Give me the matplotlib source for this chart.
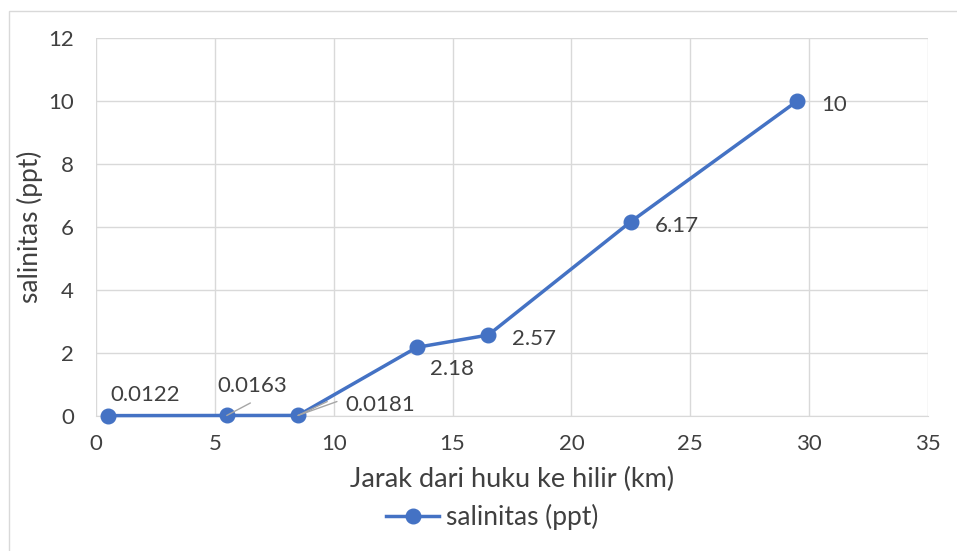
import matplotlib
matplotlib.use("Agg")
import matplotlib.pyplot as plt
from matplotlib.patches import Rectangle

# Salinity along the river
jarak = [0.5, 5.5, 8.5, 13.5, 16.5, 22.5, 29.5]
salinitas = [0.0122, 0.0163, 0.0181, 2.18, 2.57, 6.17, 10]
label_teks = ["0.0122", "0.0163", "0.0181", "2.18", "2.57", "6.17", "10"]

xticks = [0, 5, 10, 15, 20, 25, 30, 35]
yticks = [0, 2, 4, 6, 8, 10, 12]

plt.rcParams["font.family"] = ["Lato", "DejaVu Sans"]
TEXT = "#404040"
BLUE = "#4472C4"
GRID = "#D9D9D9"

fig = plt.figure(figsize=(9.57, 5.51), dpi=100)
fig.patches.append(Rectangle((9 / 957, -0.01), 1.0, 1 - 11 / 551 + 0.01,
                             transform=fig.transFigure, fill=False,
                             edgecolor="#D9D9D9", linewidth=1.0))

ax = fig.add_axes([96 / 957, (551 - 416) / 551, 832 / 957, 378 / 551])
ax.set_xlim(0, 35)
ax.set_ylim(0, 12)
ax.set_xticks(xticks)
ax.set_yticks(yticks)
ax.grid(True, color=GRID, linewidth=1.0)
ax.set_axisbelow(True)
for s in ["top", "right", "left"]:
    ax.spines[s].set_visible(False)
ax.spines["bottom"].set_color(GRID)
ax.tick_params(length=0, labelsize=16, labelcolor=TEXT)
ax.tick_params(axis="x", pad=13)
ax.tick_params(axis="y", pad=16)

line, = ax.plot(jarak, salinitas, color=BLUE, linewidth=2.5, marker="o",
                markersize=10.5, label="salinitas (ppt)", zorder=3, clip_on=False)

# data labels: (dx, dy) offsets in points, left edge / vertical centre
offsets = [(1.5, 16), (-6.5, 23), (34, 9), (9.5, -14), (17, -1.5), (17, -2), (17, -1.5)]
for xv, yv, t, (dx, dy) in zip(jarak, salinitas, label_teks, offsets):
    ax.annotate(t, (xv, yv), xytext=(dx, dy), textcoords="offset points",
                fontsize=16, color=TEXT, va="center_baseline",
                ha="left", annotation_clip=False)

# leader lines for the crowded labels
ax.annotate("", (jarak[1], salinitas[1]), xytext=(17, 9), textcoords="offset points",
            arrowprops=dict(arrowstyle="-", color="#A6A6A6", lw=1.0, shrinkA=0, shrinkB=0))
ax.annotate("", (jarak[2], salinitas[2]), xytext=(21, 10), textcoords="offset points",
            arrowprops=dict(arrowstyle="-", color="#A6A6A6", lw=1.0, shrinkA=0, shrinkB=0))
ax.annotate("", (jarak[2], salinitas[2]), xytext=(28, 10), textcoords="offset points",
            arrowprops=dict(arrowstyle="-", color="#A6A6A6", lw=1.0, shrinkA=0, shrinkB=0))

ax.set_xlabel("Jarak dari huku ke hilir (km)", fontsize=19.5, color=TEXT, labelpad=9)
ax.set_ylabel("salinitas (ppt)", fontsize=19, color=TEXT)
ax.yaxis.set_label_coords(-0.064, 0.5)

fig.legend(handles=[line], loc="center", bbox_to_anchor=(492 / 957, 1 - 517 / 551),
           frameon=False, fontsize=19, labelcolor=TEXT, handlelength=2.0,
           handletextpad=0.25)

fig.savefig("out.png", dpi=100)
